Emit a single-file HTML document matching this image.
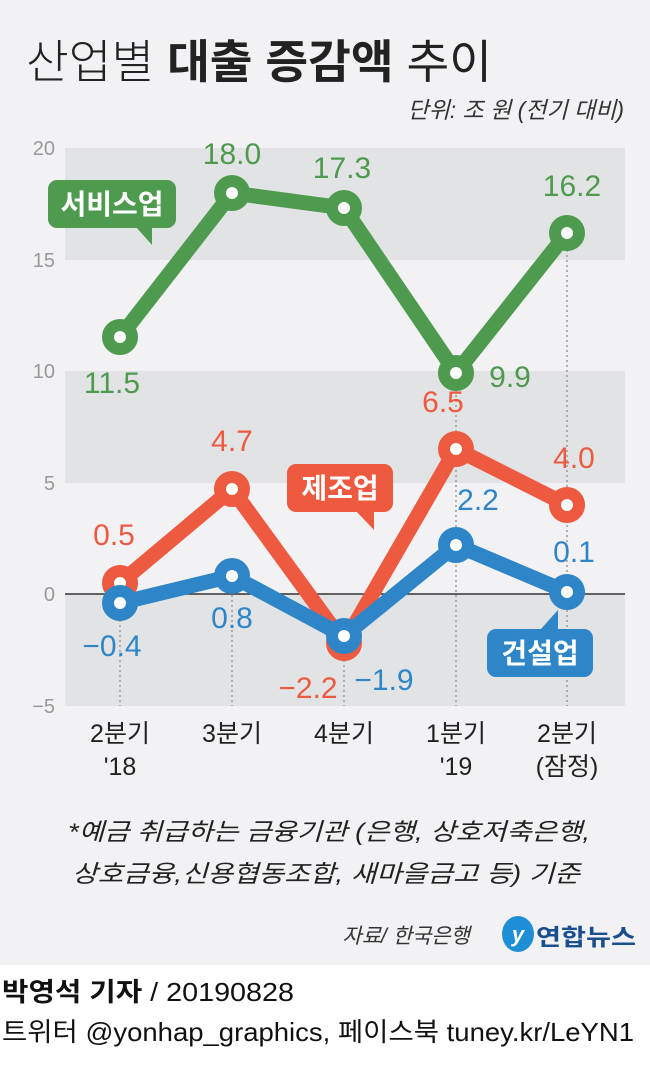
<!DOCTYPE html>
<html><head><meta charset="utf-8"><style>
body{margin:0;width:650px;height:1064px;background:#fff;font-family:"Liberation Sans","Noto Sans CJK KR",sans-serif;overflow:hidden}
</style></head><body>
<svg width="650" height="1064" xmlns="http://www.w3.org/2000/svg" font-family="Liberation Sans, Noto Sans CJK KR, sans-serif">
<rect x="0" y="0" width="650" height="965" fill="#f2f2f4"/>
<text x="26" y="78" font-size="46" fill="#222" textLength="466" lengthAdjust="spacingAndGlyphs"><tspan font-weight="300">산업별 </tspan><tspan font-weight="bold">대출 증감액</tspan><tspan> 추이</tspan></text>
<text x="624" y="118" font-size="23" fill="#333" text-anchor="end" font-style="italic">단위: 조 원 (전기 대비)</text>
<rect x="65" y="148" width="560" height="112" fill="#e2e3e5"/>
<rect x="65" y="371" width="560" height="112" fill="#e2e3e5"/>
<rect x="65" y="594" width="560" height="112" fill="#e2e3e5"/>
<line x1="65" y1="594" x2="625" y2="594" stroke="#333" stroke-width="1.5"/>
<g font-size="20" fill="#999" text-anchor="end">
<text x="55" y="155">20</text><text x="55" y="267">15</text><text x="55" y="378">10</text><text x="55" y="490">5</text><text x="55" y="601">0</text><text x="55" y="713">−5</text></g>
<g stroke="#999" stroke-width="1.5" stroke-dasharray="2,3">
<line x1="120" y1="600" x2="120" y2="706"/><line x1="232" y1="580" x2="232" y2="706"/><line x1="344" y1="640" x2="344" y2="706"/><line x1="456" y1="380" x2="456" y2="706"/><line x1="567" y1="240" x2="567" y2="706"/></g>
<polyline points="120,337 232,193 344,208 456,373 567,233" fill="none" stroke="#4e9a4e" stroke-width="15" stroke-linejoin="round"/>
<polyline points="120,583 232,489 344,643 456,449 567,505" fill="none" stroke="#ee5a40" stroke-width="15" stroke-linejoin="round"/>
<polyline points="120,603 232,576 344,636 456,545 567,592" fill="none" stroke="#2e86c8" stroke-width="15" stroke-linejoin="round"/>
<g fill="#fff" stroke-width="12">
<g stroke="#4e9a4e"><circle cx="120" cy="337" r="12"/><circle cx="232" cy="193" r="12"/><circle cx="344" cy="208" r="12"/><circle cx="456" cy="373" r="12"/><circle cx="567" cy="233" r="12"/></g>
<g stroke="#ee5a40"><circle cx="120" cy="583" r="12"/><circle cx="232" cy="489" r="12"/><circle cx="344" cy="643" r="12"/><circle cx="456" cy="449" r="12"/><circle cx="567" cy="505" r="12"/></g>
<g stroke="#2e86c8"><circle cx="120" cy="603" r="12"/><circle cx="232" cy="576" r="12"/><circle cx="344" cy="636" r="12"/><circle cx="456" cy="545" r="12"/><circle cx="567" cy="592" r="12"/></g>
</g>
<g font-size="30" text-anchor="middle">
<g fill="#4e9a4e"><text x="112" y="393">11.5</text><text x="232" y="164">18.0</text><text x="342" y="178">17.3</text><text x="510" y="387">9.9</text><text x="572" y="196">16.2</text></g>
<g fill="#ee5a40"><text x="114" y="545">0.5</text><text x="232" y="451">4.7</text><text x="308" y="698">−2.2</text><text x="443" y="412">6.5</text><text x="574" y="468">4.0</text></g>
<g fill="#2e86c8"><text x="112" y="656">−0.4</text><text x="232" y="628">0.8</text><text x="384" y="690">−1.9</text><text x="478" y="510">2.2</text><text x="574" y="562">0.1</text></g>
</g>
<rect x="48" y="180" width="128" height="48" rx="9" fill="#4e9a4e"/><polygon points="136,227 152,227 152,245" fill="#4e9a4e"/>
<text x="112" y="214" font-size="28" font-weight="bold" fill="#fff" text-anchor="middle">서비스업</text>
<rect x="287" y="464" width="106" height="48" rx="9" fill="#ee5a40"/><polygon points="356,511 374,511 374,530" fill="#ee5a40"/>
<text x="340" y="498" font-size="28" font-weight="bold" fill="#fff" text-anchor="middle">제조업</text>
<rect x="487" y="629" width="106" height="48" rx="9" fill="#2e86c8"/><polygon points="540,630 558,630 558,610" fill="#2e86c8"/>
<text x="540" y="663" font-size="28" font-weight="bold" fill="#fff" text-anchor="middle">건설업</text>
<g font-size="25" fill="#222" text-anchor="middle">
<text x="120" y="742">2분기</text><text x="120" y="775">'18</text>
<text x="232" y="742">3분기</text><text x="344" y="742">4분기</text>
<text x="456" y="742">1분기</text><text x="456" y="775">'19</text>
<text x="567" y="742">2분기</text><text x="567" y="775">(잠정)</text>
</g>
<text x="68" y="840" font-size="24" fill="#222" font-style="italic" textLength="522" lengthAdjust="spacingAndGlyphs">*예금 취급하는 금융기관 (은행, 상호저축은행,</text>
<text x="72" y="882" font-size="24" fill="#222" font-style="italic" textLength="508" lengthAdjust="spacingAndGlyphs">상호금융,신용협동조합, 새마을금고 등) 기준</text>
<text x="470" y="943" font-size="21" fill="#333" text-anchor="end" font-style="italic">자료/ 한국은행</text>
<ellipse cx="518" cy="934" rx="16" ry="18" fill="#1e8fd6"/>
<text x="518" y="942" font-size="22" fill="#fff" text-anchor="middle" font-style="italic" font-weight="bold">y</text>
<text x="536" y="945" font-size="23" font-weight="bold" fill="#1a4f8f" textLength="100" lengthAdjust="spacingAndGlyphs">연합뉴스</text>
<text x="2" y="1001" font-size="26" fill="#111" textLength="292" lengthAdjust="spacingAndGlyphs"><tspan font-weight="bold">박영석 기자</tspan> /  20190828</text>
<text x="2" y="1041" font-size="26" fill="#111" textLength="632" lengthAdjust="spacingAndGlyphs">트위터 @yonhap_graphics, 페이스북 tuney.kr/LeYN1</text>
</svg>
</body></html>
